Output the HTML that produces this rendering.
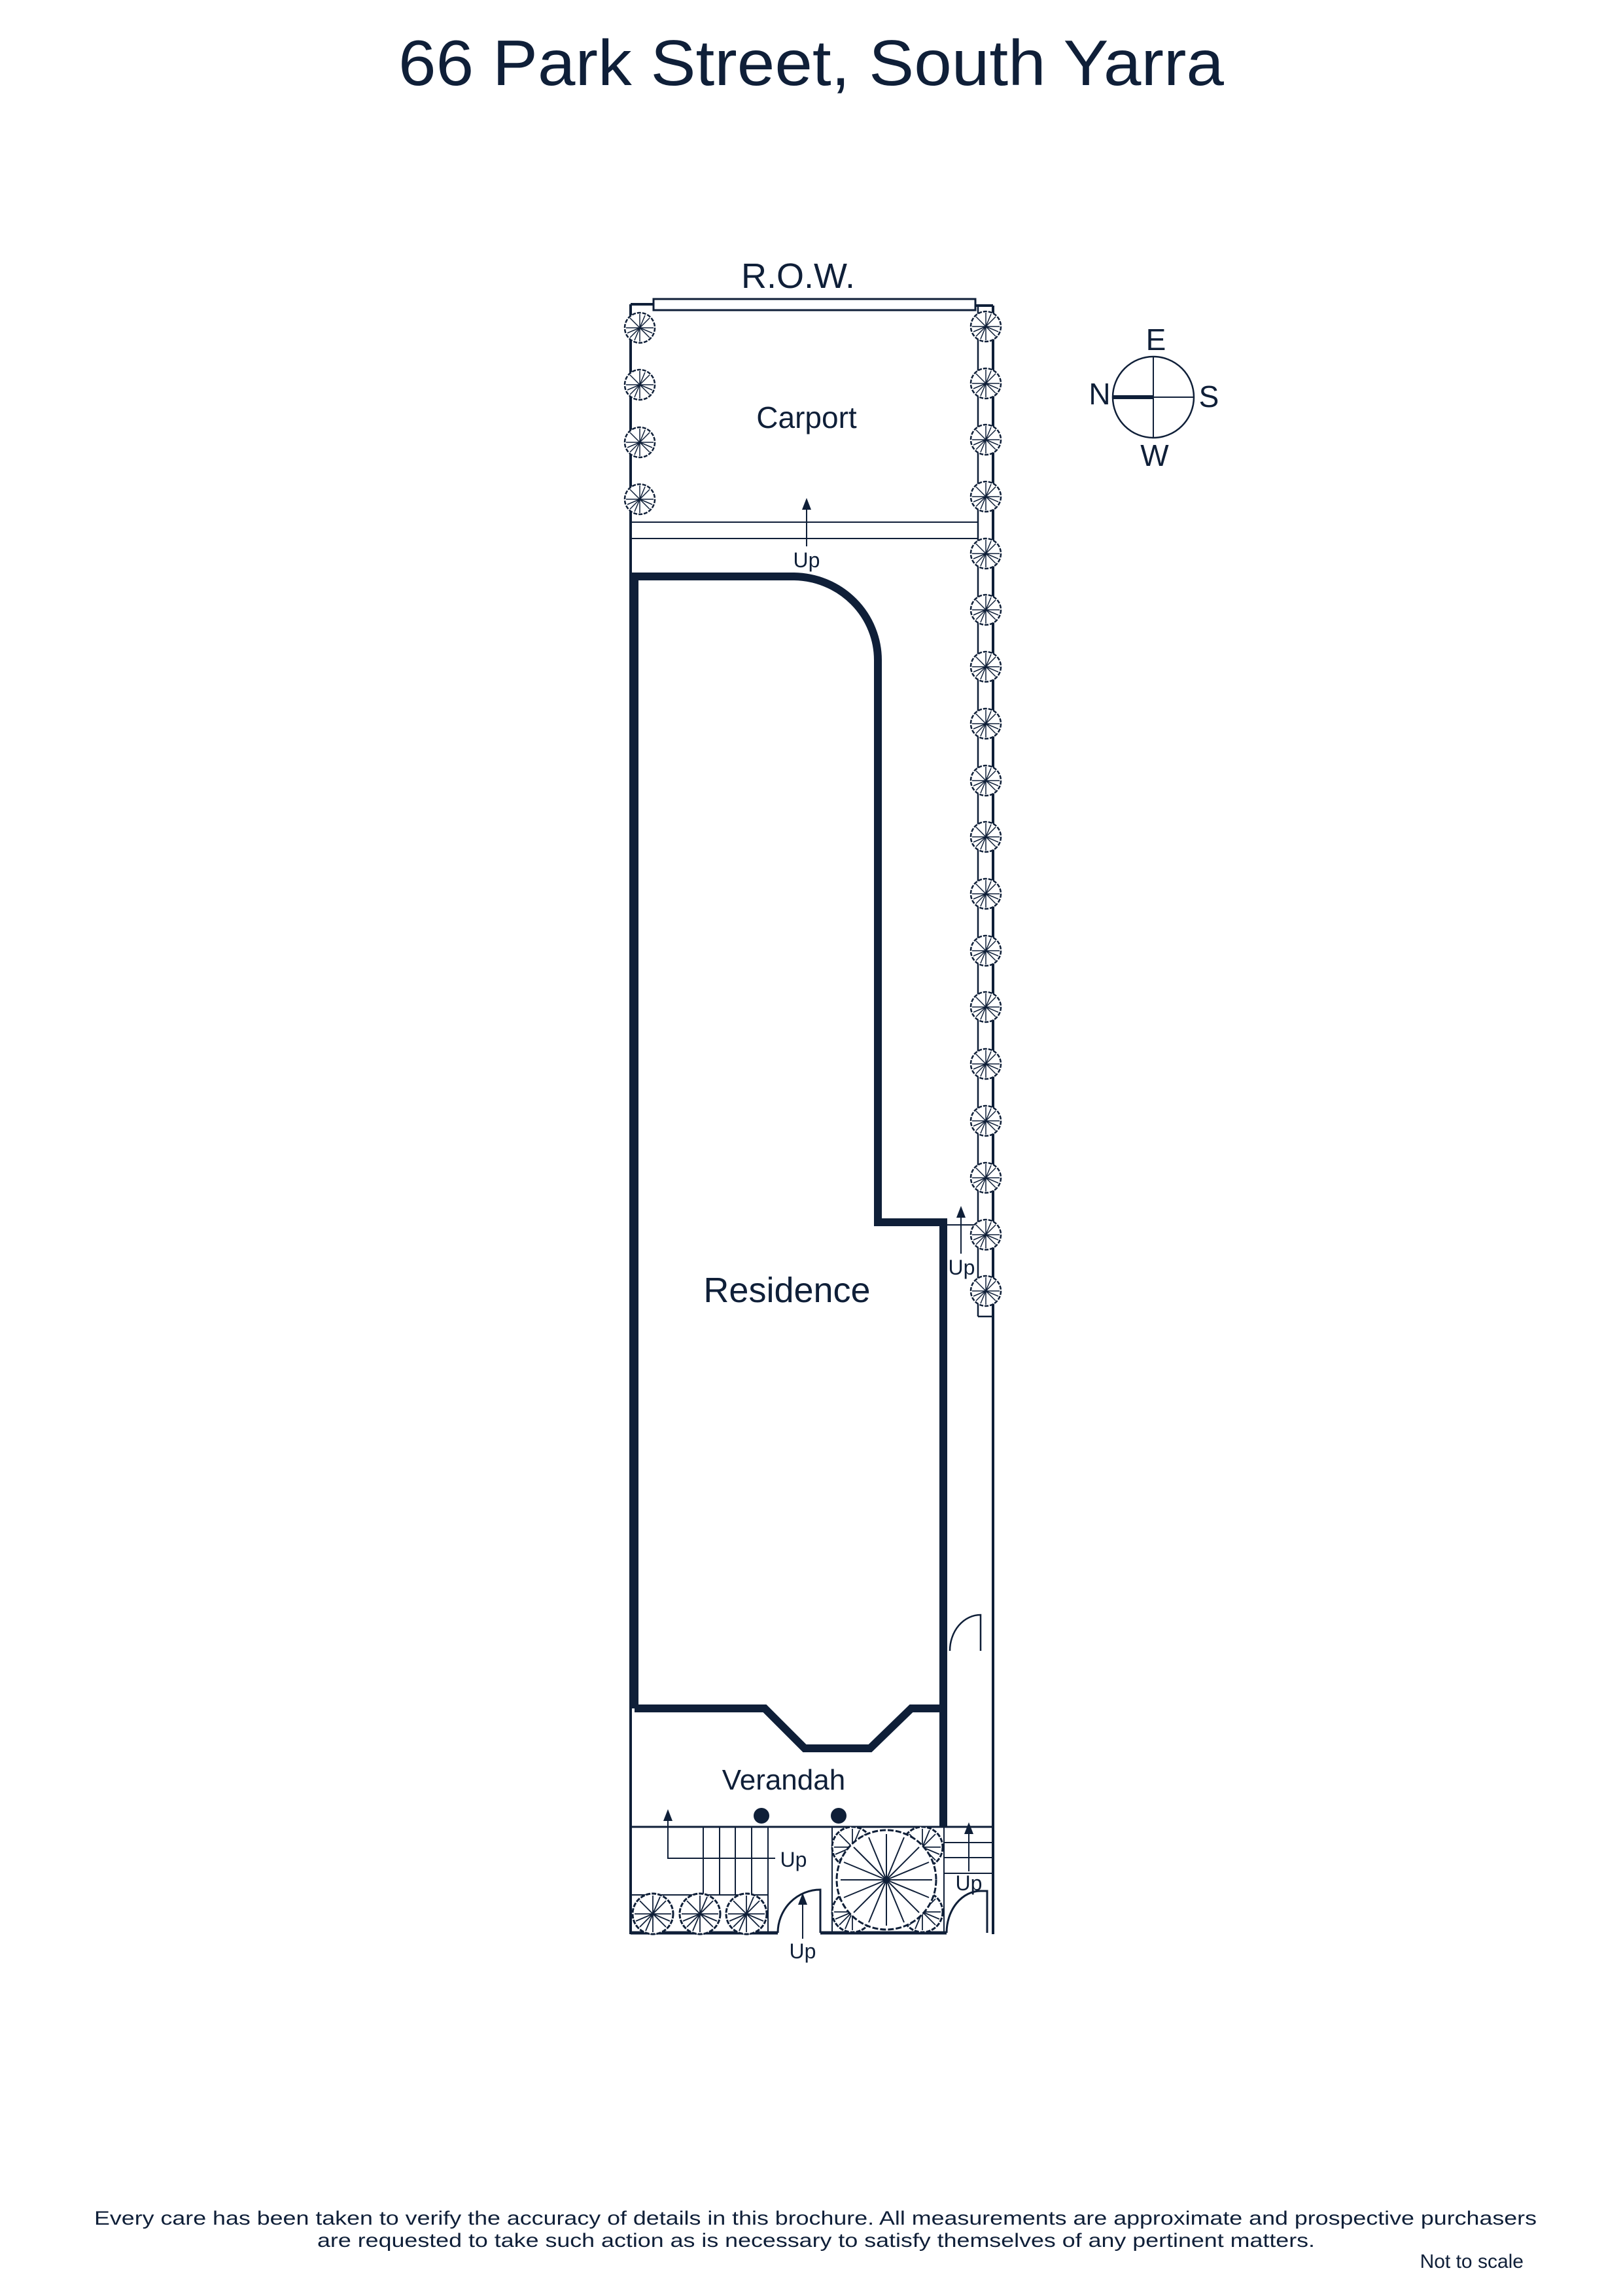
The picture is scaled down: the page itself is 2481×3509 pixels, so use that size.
<!DOCTYPE html>
<html><head><meta charset="utf-8"><style>
html,body{margin:0;padding:0;background:#fff;}
svg{display:block;}
text{font-family:"Liberation Sans",sans-serif;fill:#0f1f38;}
</style></head><body>
<svg width="2481" height="3509" viewBox="0 0 2481 3509" xmlns="http://www.w3.org/2000/svg">
<defs>
<g id="t">
<circle r="23" fill="#fff" stroke="#0f1f38" stroke-width="2.5" stroke-dasharray="6 2"/>
<g stroke="#0f1f38" stroke-width="1.5">
<line x1="0" y1="0" x2="0" y2="-21"/><line x1="0" y1="0" x2="15" y2="-15"/><line x1="0" y1="0" x2="21" y2="0"/><line x1="0" y1="0" x2="15" y2="15"/><line x1="0" y1="0" x2="0" y2="21"/><line x1="0" y1="0" x2="-15" y2="15"/><line x1="0" y1="0" x2="-21" y2="0"/><line x1="0" y1="0" x2="-15" y2="-15"/>
<line x1="0" y1="0" x2="8" y2="-19"/><line x1="0" y1="0" x2="-19" y2="8"/><line x1="0" y1="0" x2="19" y2="8"/><line x1="0" y1="0" x2="-8" y2="19"/>
</g></g>
<g id="T">
<circle r="31" fill="#fff" stroke="#0f1f38" stroke-width="3" stroke-dasharray="7 2"/>
<g stroke="#0f1f38" stroke-width="1.8">
<line x1="0" y1="0" x2="0" y2="-28"/><line x1="0" y1="0" x2="20" y2="-20"/><line x1="0" y1="0" x2="28" y2="0"/><line x1="0" y1="0" x2="20" y2="20"/><line x1="0" y1="0" x2="0" y2="28"/><line x1="0" y1="0" x2="-20" y2="20"/><line x1="0" y1="0" x2="-28" y2="0"/><line x1="0" y1="0" x2="-20" y2="-20"/>
<line x1="0" y1="0" x2="11" y2="-26"/><line x1="0" y1="0" x2="-26" y2="11"/><line x1="0" y1="0" x2="26" y2="11"/><line x1="0" y1="0" x2="-11" y2="26"/>
</g></g>
</defs>

<text x="1240" y="130" font-size="98" text-anchor="middle" textLength="1262" lengthAdjust="spacingAndGlyphs">66 Park Street, South Yarra</text>

<g fill="none" stroke="#0f1f38">
<line x1="964" y1="465" x2="964" y2="2956" stroke-width="4"/>
<line x1="964" y1="465" x2="999" y2="465" stroke-width="4"/>
<line x1="1491" y1="467" x2="1518" y2="467" stroke-width="4"/>
<line x1="1518" y1="467" x2="1518" y2="2956" stroke-width="4"/>
<rect x="999" y="457" width="492" height="17" stroke-width="3" fill="#fff"/>
<line x1="1495" y1="467" x2="1495" y2="2012" stroke-width="2.5"/>
<line x1="1495" y1="2012" x2="1518" y2="2012" stroke-width="2.5"/>
<line x1="964" y1="798" x2="1495" y2="798" stroke-width="2"/>
<line x1="964" y1="823" x2="1495" y2="823" stroke-width="2"/>
<line x1="1233" y1="835" x2="1233" y2="775" stroke-width="2"/>

<path d="M970,2611 L970,881 L1214,881 A130,128 0 0 1 1342,1009 L1342,1868 L1442,1868 L1442,2792 M1442,2611 L1393,2611 L1330,2672 L1230,2672 L1169,2611 L970,2611" stroke-width="12" stroke-linejoin="miter"/>
<line x1="1442" y1="1872" x2="1495" y2="1872" stroke-width="2"/>
<line x1="1469" y1="1916" x2="1469" y2="1857" stroke-width="2"/>

<path d="M1452,2523 A47,55 0 0 1 1499,2468 L1499,2523" stroke-width="2.5"/>
<line x1="964" y1="2792" x2="1518" y2="2792" stroke-width="3"/>
<line x1="964" y1="2954" x2="1189" y2="2954" stroke-width="5"/>
<line x1="1254" y1="2954" x2="1447" y2="2954" stroke-width="5"/>
<path d="M1189,2954 A65,66 0 0 1 1254,2888 L1254,2954" stroke-width="3"/>
<line x1="1227" y1="2963" x2="1227" y2="2907" stroke-width="2"/>
<g stroke-width="2">
<line x1="1075" y1="2792" x2="1075" y2="2896"/><line x1="1100" y1="2792" x2="1100" y2="2896"/><line x1="1124" y1="2792" x2="1124" y2="2896"/><line x1="1149" y1="2792" x2="1149" y2="2896"/><line x1="1174" y1="2792" x2="1174" y2="2954"/>
<line x1="966" y1="2896" x2="1174" y2="2896"/>
<line x1="1272" y1="2792" x2="1272" y2="2954"/>
<line x1="1443" y1="2816" x2="1518" y2="2816"/><line x1="1443" y1="2839" x2="1518" y2="2839"/><line x1="1443" y1="2863" x2="1518" y2="2863"/>
<line x1="1443" y1="2792" x2="1443" y2="2954"/>
</g>
<polyline points="1185,2840 1021,2840 1021,2779" stroke-width="2"/>
<line x1="1481" y1="2860" x2="1481" y2="2799" stroke-width="2"/>
<path d="M1447,2954 A52,64 0 0 1 1499,2890 L1509,2890 L1509,2954" stroke-width="3"/>

<circle cx="1763" cy="607" r="62" stroke-width="2.5"/>
<line x1="1763" y1="545" x2="1763" y2="669" stroke-width="2"/>
<line x1="1763" y1="607" x2="1825" y2="607" stroke-width="2"/>
<line x1="1701" y1="607" x2="1763" y2="607" stroke-width="6"/>
</g>
<!-- arrowheads -->
<g fill="#0f1f38">
<path d="M1226,779 L1233,761 L1240,779 Z"/>
<path d="M1462,1861 L1469,1843 L1476,1861 Z"/>
<path d="M1220,2911 L1227,2893 L1234,2911 Z"/>
<path d="M1014,2783 L1021,2765 L1028,2783 Z"/>
<path d="M1474,2803 L1481,2785 L1488,2803 Z"/>
</g>
<circle cx="1164" cy="2775" r="12" fill="#0f1f38"/>
<circle cx="1282" cy="2775" r="12" fill="#0f1f38"/>

<use href="#t" x="978" y="501"/><use href="#t" x="978" y="588"/><use href="#t" x="978" y="676"/><use href="#t" x="978" y="763"/>
<use href="#t" x="1507" y="499"/><use href="#t" x="1507" y="586"/><use href="#t" x="1507" y="672"/><use href="#t" x="1507" y="759"/><use href="#t" x="1507" y="846"/><use href="#t" x="1507" y="932"/><use href="#t" x="1507" y="1019"/><use href="#t" x="1507" y="1106"/><use href="#t" x="1507" y="1193"/><use href="#t" x="1507" y="1279"/><use href="#t" x="1507" y="1366"/><use href="#t" x="1507" y="1453"/><use href="#t" x="1507" y="1539"/><use href="#t" x="1507" y="1626"/><use href="#t" x="1507" y="1713"/><use href="#t" x="1507" y="1800"/><use href="#t" x="1507" y="1887"/><use href="#t" x="1507" y="1973"/>
<use href="#T" x="998" y="2925"/><use href="#T" x="1070" y="2925"/><use href="#T" x="1141" y="2925"/>
<use href="#T" x="1303" y="2823"/><use href="#T" x="1410" y="2823"/><use href="#T" x="1303" y="2922"/><use href="#T" x="1410" y="2922"/>
<g transform="translate(1355,2873)">
<circle r="76" fill="#fff" stroke="#0f1f38" stroke-width="3" stroke-dasharray="9 3"/>
<g stroke="#0f1f38" stroke-width="2">
<line x1="0" y1="0" x2="0" y2="-70"/><line x1="0" y1="0" x2="50" y2="-50"/><line x1="0" y1="0" x2="70" y2="0"/><line x1="0" y1="0" x2="50" y2="50"/><line x1="0" y1="0" x2="0" y2="70"/><line x1="0" y1="0" x2="-50" y2="50"/><line x1="0" y1="0" x2="-70" y2="0"/><line x1="0" y1="0" x2="-50" y2="-50"/>
<line x1="0" y1="0" x2="27" y2="-65"/><line x1="0" y1="0" x2="-65" y2="27"/><line x1="0" y1="0" x2="65" y2="27"/><line x1="0" y1="0" x2="-27" y2="65"/>
<line x1="0" y1="0" x2="-27" y2="-65"/><line x1="0" y1="0" x2="65" y2="-27"/><line x1="0" y1="0" x2="-65" y2="-27"/><line x1="0" y1="0" x2="27" y2="65"/>
</g></g>

<text x="1220" y="440" font-size="54" text-anchor="middle">R.O.W.</text>
<text x="1233" y="654" font-size="46" text-anchor="middle">Carport</text>
<text x="1233" y="867" font-size="32" text-anchor="middle">Up</text>
<text x="1203" y="1990" font-size="54" text-anchor="middle">Residence</text>
<text x="1470" y="1948" font-size="32" text-anchor="middle">Up</text>
<text x="1198" y="2735" font-size="44" text-anchor="middle">Verandah</text>
<text x="1213" y="2853" font-size="32" text-anchor="middle">Up</text>
<text x="1481" y="2889" font-size="32" text-anchor="middle">Up</text>
<text x="1227" y="2993" font-size="32" text-anchor="middle">Up</text>
<text x="1767" y="535" font-size="46" text-anchor="middle">E</text>
<text x="1681" y="618" font-size="46" text-anchor="middle">N</text>
<text x="1848" y="622" font-size="46" text-anchor="middle">S</text>
<text x="1765" y="712" font-size="46" text-anchor="middle">W</text>

<text x="144" y="3400" font-size="30" textLength="2205" lengthAdjust="spacingAndGlyphs">Every care has been taken to verify the accuracy of details in this brochure.  All measurements are approximate and prospective purchasers</text>
<text x="485" y="3434" font-size="30" textLength="1525" lengthAdjust="spacingAndGlyphs">are requested to take such action as is necessary to satisfy themselves of any pertinent matters.</text>
<text x="2329" y="3466" font-size="30" text-anchor="end">Not to scale</text>
</svg>
</body></html>
